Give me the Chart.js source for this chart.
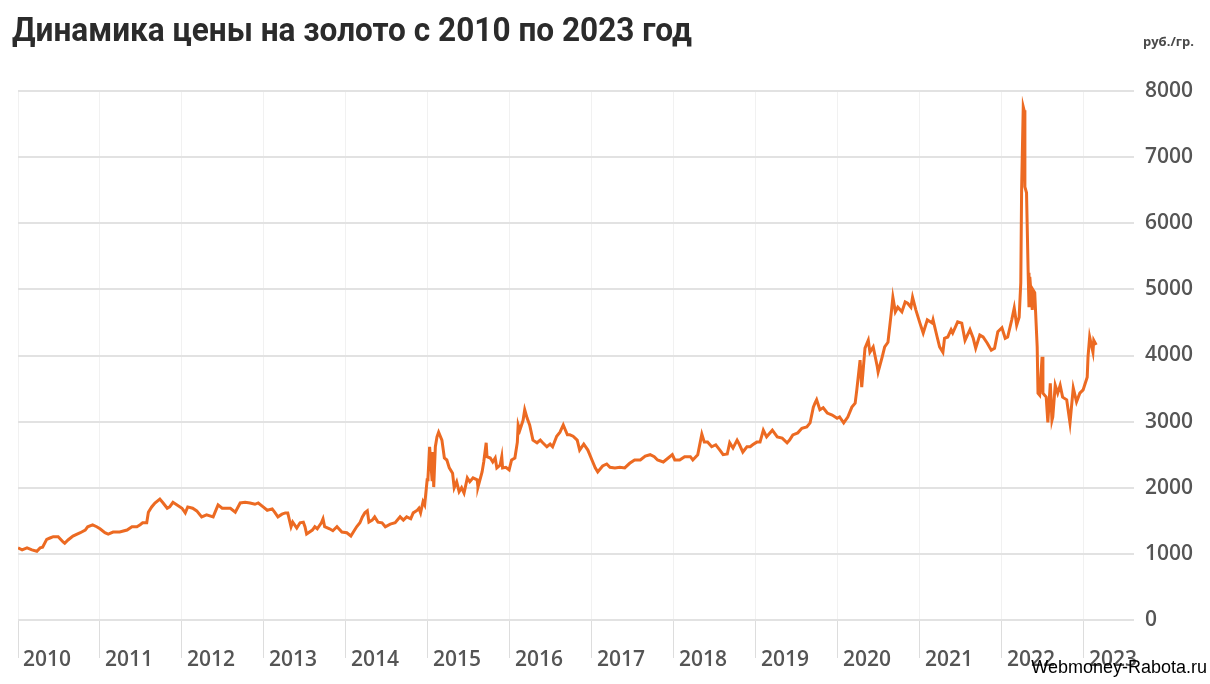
<!DOCTYPE html>
<html lang="ru">
  <head>
    <title>Динамика цены на золото с 2010 по 2023 год</title>
    <meta charset="UTF-8" />
    <script src="https://cdn.jsdelivr.net/npm/chart.js@4.4.0/dist/chart.umd.min.js"></script>
    <style>
      html, body { margin: 0; padding: 0; background: #fff; }
      #wrap { position: relative; width: 1210px; height: 684px; overflow: hidden; }
      #title {
        position: absolute; left: 12px; top: 9px;
        font: 700 34px Roboto, sans-serif; color: #2b2b2b;
        white-space: nowrap; transform-origin: 0 0;
      }
      #unit {
        position: absolute; left: 1143px; top: 32px;
        font: 700 13px "Open Sans", sans-serif; color: #4a4a4a;
      }
      #mark {
        position: absolute; right: 3px; bottom: 6px;
        font: 18px "Liberation Sans", Arial, sans-serif; color: #000;
      }
      canvas { position: absolute; left: 0; top: 0; }
    </style>
  </head>

  <body>
    <div id="wrap">
      <canvas id="chart" width="1210" height="684"></canvas>
      <div id="title">Динамика цены на золото с 2010 по 2023 год</div>
      <div id="unit">руб./гр.</div>
      <div id="mark">Webmoney-Rabota.ru</div>
    </div>

    <script>
      // дата (доля года) и цена, руб./гр.
      const years = [
        2010.00, 2010.05, 2010.11, 2010.17, 2010.23, 2010.27, 2010.30, 2010.35, 2010.39, 2010.43,
        2010.49, 2010.55, 2010.57, 2010.61, 2010.67, 2010.76, 2010.82, 2010.85, 2010.91, 2010.96,
        2011.00, 2011.06, 2011.10, 2011.16, 2011.24, 2011.33, 2011.39, 2011.45, 2011.49, 2011.52,
        2011.57, 2011.59, 2011.63, 2011.67, 2011.73, 2011.77, 2011.82, 2011.85, 2011.89, 2011.94,
        2012.00, 2012.04, 2012.07, 2012.13, 2012.18, 2012.24, 2012.30, 2012.38, 2012.44, 2012.49,
        2012.59, 2012.65, 2012.71, 2012.77, 2012.83, 2012.89, 2012.93, 2012.99, 2013.04, 2013.10,
        2013.13, 2013.17, 2013.22, 2013.26, 2013.29, 2013.33, 2013.35, 2013.40, 2013.44, 2013.48,
        2013.50, 2013.52, 2013.59, 2013.62, 2013.65, 2013.70, 2013.72, 2013.74, 2013.80, 2013.84,
        2013.89, 2013.95, 2014.01, 2014.06, 2014.09, 2014.13, 2014.17, 2014.20, 2014.23, 2014.26,
        2014.28, 2014.32, 2014.35, 2014.39, 2014.44, 2014.48, 2014.54, 2014.60, 2014.66, 2014.70,
        2014.74, 2014.79, 2014.82, 2014.87, 2014.89, 2014.91, 2014.94, 2014.96, 2014.99, 2015.00,
        2015.02, 2015.05, 2015.06, 2015.07, 2015.09, 2015.11, 2015.13, 2015.17, 2015.20, 2015.23,
        2015.26, 2015.30, 2015.32, 2015.35, 2015.38, 2015.41, 2015.44, 2015.48, 2015.51, 2015.55,
        2015.60, 2015.61, 2015.66, 2015.68, 2015.71, 2015.72, 2015.76, 2015.79, 2015.82, 2015.84,
        2015.88, 2015.90, 2015.91, 2015.95, 2015.99, 2016.02, 2016.06, 2016.09, 2016.10, 2016.12,
        2016.16, 2016.18, 2016.21, 2016.24, 2016.28, 2016.33, 2016.37, 2016.40, 2016.45, 2016.49,
        2016.52, 2016.57, 2016.61, 2016.65, 2016.70, 2016.73, 2016.77, 2016.82, 2016.85, 2016.90,
        2016.95, 2017.00, 2017.04, 2017.07, 2017.13, 2017.18, 2017.22, 2017.28, 2017.34, 2017.40,
        2017.46, 2017.52, 2017.59, 2017.65, 2017.71, 2017.76, 2017.80, 2017.87, 2017.93, 2017.98,
        2018.01, 2018.07, 2018.13, 2018.20, 2018.23, 2018.29, 2018.34, 2018.37, 2018.41, 2018.46,
        2018.51, 2018.56, 2018.60, 2018.65, 2018.68, 2018.72, 2018.77, 2018.80, 2018.84, 2018.89,
        2018.93, 2018.96, 2019.01, 2019.05, 2019.09, 2019.13, 2019.20, 2019.26, 2019.32, 2019.38,
        2019.41, 2019.45, 2019.51, 2019.56, 2019.62, 2019.66, 2019.70, 2019.72, 2019.74, 2019.78,
        2019.82, 2019.87, 2019.93, 2019.99, 2020.02, 2020.07, 2020.12, 2020.17, 2020.21, 2020.23,
        2020.27, 2020.29, 2020.33, 2020.37, 2020.39, 2020.43, 2020.48, 2020.49, 2020.54, 2020.57,
        2020.61, 2020.65, 2020.67, 2020.70, 2020.73, 2020.78, 2020.82, 2020.85, 2020.89, 2020.91,
        2020.95, 2021.00, 2021.04, 2021.09, 2021.15, 2021.16, 2021.21, 2021.24, 2021.28, 2021.30,
        2021.34, 2021.38, 2021.40, 2021.46, 2021.51, 2021.55, 2021.61, 2021.65, 2021.68, 2021.73,
        2021.77, 2021.82, 2021.87, 2021.91, 2021.95, 2022.00, 2022.04, 2022.07, 2022.12, 2022.15,
        2022.18, 2022.21, 2022.23, 2022.24, 2022.26, 2022.27, 2022.28, 2022.30, 2022.32, 2022.33,
        2022.34, 2022.37, 2022.38, 2022.40, 2022.43, 2022.44, 2022.46, 2022.49, 2022.50, 2022.54,
        2022.56, 2022.59, 2022.61, 2022.62, 2022.65, 2022.68, 2022.71, 2022.74, 2022.79, 2022.83,
        2022.87, 2022.91, 2022.95, 2022.99, 2023.04, 2023.05, 2023.07, 2023.11, 2023.12, 2023.15,
      ]

      const prices = [
        1090, 1060, 1090, 1060, 1040, 1090, 1100, 1220, 1240, 1260,
        1260, 1180, 1160, 1210, 1270, 1320, 1360, 1410, 1440, 1410,
        1380, 1320, 1300, 1330, 1330, 1360, 1410, 1410, 1440, 1470,
        1470, 1630, 1710, 1770, 1830, 1770, 1690, 1710, 1780, 1740,
        1690, 1620, 1710, 1690, 1650, 1560, 1590, 1560, 1740, 1690,
        1690, 1630, 1770, 1780, 1770, 1750, 1770, 1710, 1660, 1680,
        1630, 1560, 1600, 1620, 1620, 1410, 1480, 1390, 1470, 1480,
        1410, 1300, 1360, 1410, 1380, 1470, 1530, 1410, 1380, 1350,
        1410, 1330, 1320, 1270, 1330, 1410, 1470, 1560, 1620, 1650,
        1480, 1510, 1560, 1480, 1470, 1410, 1450, 1470, 1560, 1510,
        1560, 1530, 1620, 1660, 1690, 1620, 1790, 1740, 2120, 2150,
        2620, 2120, 2540, 2010, 2620, 2770, 2840, 2720, 2450, 2420,
        2300, 2220, 2000, 2090, 1940, 2000, 1920, 2150, 2090, 2150,
        2120, 2010, 2240, 2390, 2680, 2470, 2450, 2390, 2450, 2300,
        2340, 2470, 2300, 2310, 2270, 2420, 2450, 2690, 2950, 2870,
        3020, 3180, 3050, 2950, 2720, 2680, 2720, 2680, 2620, 2660,
        2620, 2780, 2840, 2950, 2800, 2800, 2780, 2720, 2570, 2660,
        2570, 2420, 2300, 2240, 2330, 2360, 2310, 2300, 2310, 2300,
        2370, 2420, 2420, 2480, 2500, 2470, 2420, 2390, 2450, 2500,
        2420, 2420, 2470, 2470, 2420, 2500, 2810, 2690, 2690, 2620,
        2650, 2570, 2500, 2510, 2680, 2600, 2720, 2650, 2540, 2620,
        2620, 2650, 2690, 2690, 2870, 2770, 2870, 2770, 2750, 2680,
        2720, 2800, 2830, 2900, 2920, 2980, 3220, 3280, 3330, 3180,
        3210, 3130, 3100, 3050, 3070, 2980, 3070, 3220, 3280, 3480,
        3930, 3520, 4110, 4230, 4050, 4130, 3830, 3750, 3980, 4130,
        4200, 4640, 4880, 4660, 4730, 4660, 4810, 4790, 4730, 4880,
        4690, 4490, 4340, 4540, 4490, 4540, 4280, 4130, 4050, 4260,
        4280, 4390, 4340, 4510, 4490, 4230, 4390, 4260, 4110, 4310,
        4280, 4190, 4080, 4110, 4360, 4420, 4260, 4280, 4540, 4720,
        4460, 4580, 5100, 6500, 7760, 7710, 6550, 6460, 5250, 4730,
        5190, 4690, 4990, 4950, 4130, 3430, 3400, 3980, 3430, 3370,
        2990, 3580, 3020, 3070, 3550, 3430, 3550, 3370, 3330, 2980,
        3510, 3300, 3430, 3480, 3670, 3980, 4280, 4050, 4230, 4160,
      ]

      const yearMin = 2010
      const yearMax = 2023.44
      const priceMax = 8000

      // подогнать ширину заголовка
      const title = document.getElementById('title')
      title.style.transform = 'scaleX(' + (680 / title.offsetWidth) + ')'

      const tickFont = { family: '"Open Sans", sans-serif', size: 21, weight: '600' }

      const ctx = document.getElementById('chart').getContext('2d')
      const chart = new Chart(ctx, {
        type: 'line',
        data: {
          datasets: [
            {
              data: years.map((x, i) => ({ x: x, y: prices[i] })),
              borderColor: '#ec6a22',
              borderWidth: 3,
              pointRadius: 0,
              tension: 0,
              fill: false,
            },
          ],
        },
        options: {
          responsive: false,
          animation: false,
          events: [],
          layout: {
            padding: { left: 18, top: 91, right: 0, bottom: 0 },
          },
          plugins: {
            legend: { display: false },
            tooltip: { enabled: false },
          },
          scales: {
            x: {
              type: 'linear',
              min: yearMin,
              max: yearMax,
              border: { display: false },
              grid: {
                color: '#f1f1f1',
                lineWidth: 1,
                tickColor: '#dddddd',
                tickLength: 38,
              },
              ticks: {
                stepSize: 1,
                includeBounds: false,
                autoSkip: false,
                maxRotation: 0,
                align: 'start',
                labelOffset: 5,
                padding: -11,
                color: '#555555',
                font: tickFont,
                callback: (v) => String(v),
              },
              afterFit: (scale) => {
                scale.height = 64
              },
            },
            y: {
              position: 'right',
              min: 0,
              max: priceMax,
              border: { display: false },
              grid: {
                color: '#e2e2e2',
                lineWidth: 2,
                tickLength: 14,
              },
              ticks: {
                stepSize: 1000,
                padding: 11,
                color: '#555555',
                font: tickFont,
                callback: (v) => String(v),
              },
              afterFit: (scale) => {
                scale.width = 90
              },
            },
          },
        },
      })
    </script>
  </body>
</html>
